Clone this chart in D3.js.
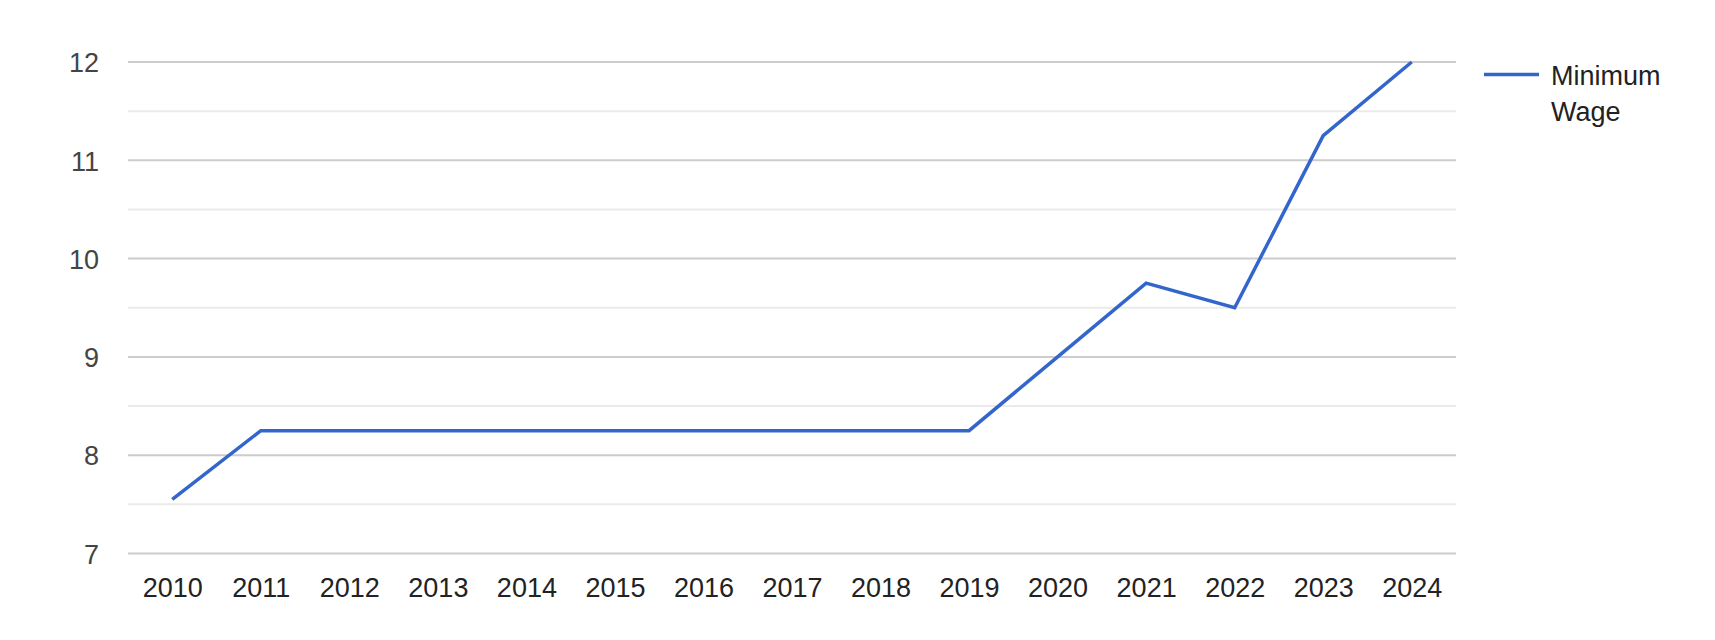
<!DOCTYPE html>
<html><head><meta charset="utf-8">
<script src="https://cdn.jsdelivr.net/npm/d3@7"></script>
<style>body{margin:0;background:#fff}svg{display:block;font-family:"Liberation Sans",Arial,sans-serif}</style>
</head><body>
<svg id="c" width="1715" height="640"></svg>
<script>
const years = ["2010","2011","2012","2013","2014","2015","2016","2017","2018","2019","2020","2021","2022","2023","2024"];
const wage = [7.55,8.25,8.25,8.25,8.25,8.25,8.25,8.25,8.25,8.25,9.0,9.75,9.5,11.25,12.0];
const yTicks = [7,8,9,10,11,12];
const yMinor = [7.5,8.5,9.5,10.5,11.5];
const seriesName = ["Minimum","Wage"];

const svg = d3.select("#c");
const L = 128, R = 1456, T = 62, B = 553.5;
const x = d3.scalePoint().domain(years).range([L, R]).padding(0.5);
const y = d3.scaleLinear().domain([7, 12]).range([B, T]);

const g = svg.append("g");
g.selectAll("line.minor").data(yMinor).join("line")
  .attr("x1", L).attr("x2", R).attr("y1", d => y(d)).attr("y2", d => y(d))
  .attr("stroke", "#ebebeb").attr("stroke-width", 2);
g.selectAll("line.major").data(yTicks).join("line")
  .attr("x1", L).attr("x2", R).attr("y1", d => y(d)).attr("y2", d => y(d))
  .attr("stroke", "#cccccc").attr("stroke-width", 2);

const yAxis = d3.axisLeft(y).tickValues(yTicks).tickSize(0).tickPadding(0).tickFormat(d3.format("d"));
const ya = svg.append("g").attr("transform", "translate(99,0)").call(yAxis);
ya.select(".domain").remove();
ya.selectAll("text").attr("font-size", 27).attr("fill", "#444").attr("font-family", "Liberation Sans, Arial, sans-serif").attr("dy", "0.36em");

const xAxis = d3.axisBottom(x).tickSize(0).tickPadding(0);
const xa = svg.append("g").attr("transform", "translate(0,597)").call(xAxis);
xa.select(".domain").remove();
xa.selectAll("text").attr("font-size", 27).attr("fill", "#222").attr("font-family", "Liberation Sans, Arial, sans-serif").attr("dy", 0).attr("y", 0);

const line = d3.line().x((d, i) => x(years[i])).y(d => y(d));
svg.append("path").datum(wage).attr("d", line)
  .attr("fill", "none").attr("stroke", "#3366cc").attr("stroke-width", 3.5).attr("stroke-linejoin", "miter");

const lg = svg.append("g");
lg.append("line").attr("x1", 1484).attr("x2", 1539).attr("y1", 74.5).attr("y2", 74.5)
  .attr("stroke", "#3366cc").attr("stroke-width", 3.5);
lg.selectAll("text").data(seriesName).join("text")
  .attr("x", 1551).attr("y", (d, i) => 85 + i * 35.7)
  .attr("font-size", 27).attr("fill", "#222").text(d => d);
</script>
</body></html>
